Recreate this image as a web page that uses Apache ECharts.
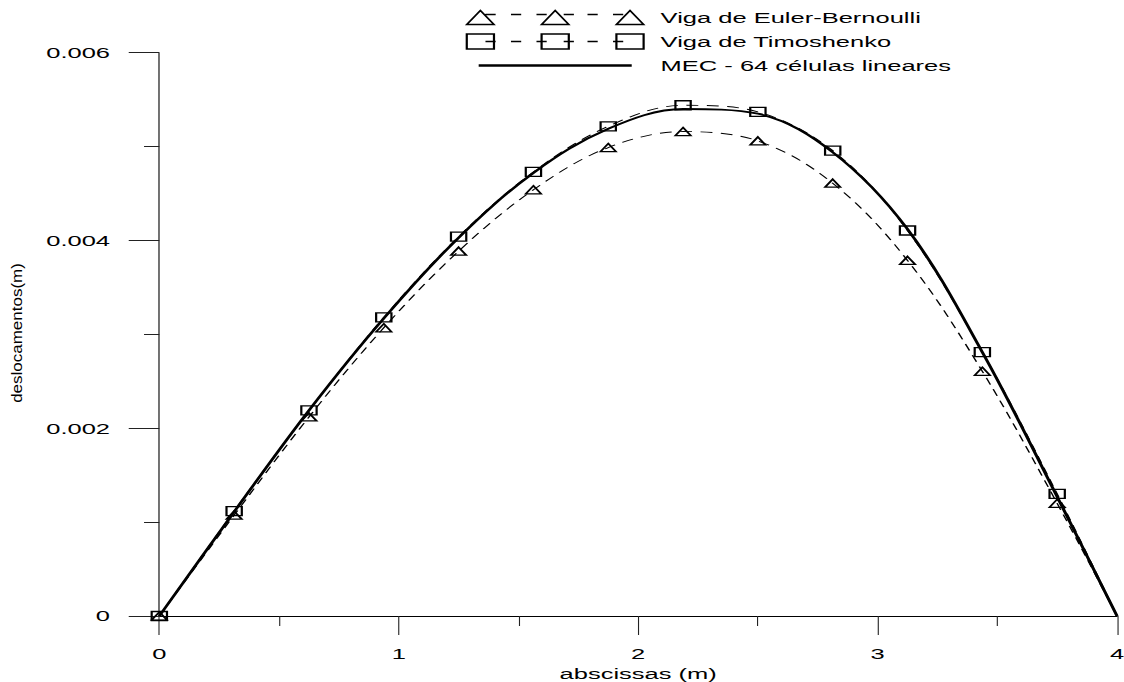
<!DOCTYPE html>
<html>
<head>
<meta charset="utf-8">
<title>Deslocamentos</title>
<script src="https://cdn.jsdelivr.net/npm/echarts@6/dist/echarts.min.js"></script>
<style>
  html, body { margin: 0; padding: 0; background: #fff; overflow: hidden; }
  /* the figure is laid out narrow and widened horizontally, like the original plot output */
  #chart { width: 661px; height: 682px; transform: scaleX(1.70045); transform-origin: 0 0; }
</style>
</head>
<body>
<div id="chart"></div>
<script>
// abscissas of the sampled points along the beam (m)
const abscissas = [0, 0.3125, 0.625, 0.9375, 1.25, 1.5625, 1.875, 2.1875, 2.5, 2.8125, 3.125, 3.4375, 3.75, 4];

// displacements (m)
const eulerBernoulli = [0, 0.001074, 0.00212, 0.00307, 0.003886, 0.00454, 0.00499, 0.00516, 0.00506, 0.00461, 0.003787, 0.002606, 0.00120, 0];
const timoshenko     = [0, 0.001117, 0.00219, 0.00318, 0.00404, 0.00473, 0.005216, 0.00544, 0.00537, 0.004957, 0.004106, 0.00281, 0.00130, 0];
const mec64          = [0, 0.00111, 0.00219, 0.00317, 0.00403, 0.00472, 0.00519, 0.00540, 0.00535, 0.00494, 0.00412, 0.00281, 0.00127, 0];

const seriesNames = ['Viga de Euler-Bernoulli', 'Viga de Timoshenko', 'MEC - 64 células lineares'];
const xTickLabels = ['0', '1', '2', '3', '4'];
const yTickLabels = ['0', '0.002', '0.004', '0.006'];

const FONT = 'Liberation Sans, Arial, sans-serif';

function toPoints(ys, markLast) {
  return abscissas.map(function (x, i) {
    if (!markLast && i === abscissas.length - 1) {
      return { value: [x, ys[i]], symbol: 'none' };
    }
    return [x, ys[i]];
  });
}

// legend icons: three markers joined by dashes, or a plain thick line
const DASHES = [[11, 17], [26, 32], [41, 47], [57, 63], [71, 77], [86, 92]];
const CENTERS = [8, 52, 96];
function dashPath(y) {
  return DASHES.map(function (d) { return 'M' + d[0] + ' ' + y + ' L' + d[1] + ' ' + y; }).join(' ');
}
const FRAME = 'M0 0 M109 16 ';
const iconEuler = 'path://' + FRAME + CENTERS.map(function (c) {
  return 'M' + (c - 8) + ' 15 L' + c + ' 1 L' + (c + 8) + ' 15 Z';
}).join(' ') + ' ' + dashPath(5);
const iconTimo = 'path://' + FRAME + CENTERS.map(function (c) {
  return 'M' + (c - 8) + ' 0.5 L' + (c + 8) + ' 0.5 L' + (c + 8) + ' 15.5 L' + (c - 8) + ' 15.5 Z';
}).join(' ') + ' ' + dashPath(8);
const iconMec = 'path://' + FRAME + 'M7 8 L97 8';

const chart = echarts.init(document.getElementById('chart'), null, { renderer: 'svg' });

chart.setOption({
  animation: false,
  backgroundColor: '#fff',
  grid: { left: 93.7, right: 4.1, top: 52.7, bottom: 66, outerBoundsMode: 'none' },
  legend: {
    orient: 'vertical',
    left: 272,
    top: 7,
    padding: 0,
    itemWidth: 109,
    itemHeight: 16,
    itemGap: 3,
    selectedMode: false,
    symbolKeepAspect: false,
    textStyle: { fontFamily: FONT, fontSize: 15, color: '#000' },
    data: [
      { name: seriesNames[0], icon: iconEuler, itemStyle: { color: 'none', borderColor: '#000', borderWidth: 1.3 } },
      { name: seriesNames[1], icon: iconTimo, itemStyle: { color: 'none', borderColor: '#000', borderWidth: 1.3 } },
      { name: seriesNames[2], icon: iconMec, itemStyle: { color: 'none', borderColor: '#000', borderWidth: 2.6 } }
    ]
  },
  graphic: [{
    type: 'text',
    x: 9.7,
    y: 333,
    rotation: Math.PI / 2,
    scaleY: 0.5,
    style: {
      text: 'deslocamentos(m)',
      fontFamily: FONT,
      fontSize: 17,
      fill: '#000',
      align: 'center',
      verticalAlign: 'middle'
    }
  }],
  xAxis: {
    type: 'value',
    min: 0,
    max: 4,
    interval: 1,
    name: 'abscissas (m)',
    nameLocation: 'middle',
    nameGap: 47,
    nameTextStyle: { fontFamily: FONT, fontSize: 15, color: '#000' },
    axisLine: { show: true, lineStyle: { color: '#000', width: 1 } },
    axisTick: { show: true, length: 19, lineStyle: { color: '#222', width: 0.65 } },
    minorTick: { show: true, splitNumber: 2, length: 10, lineStyle: { color: '#222', width: 0.65 } },
    splitLine: { show: false },
    axisLabel: {
      margin: 30,
      fontFamily: FONT,
      fontSize: 15,
      color: '#000',
      formatter: function (v, i) { return xTickLabels[i]; }
    }
  },
  yAxis: {
    type: 'value',
    min: 0,
    max: 0.006,
    interval: 0.002,
    axisLine: { show: true, lineStyle: { color: '#000', width: 0.65 } },
    axisTick: { show: true, length: 18, lineStyle: { color: '#222', width: 1 } },
    minorTick: { show: true, splitNumber: 2, length: 9, lineStyle: { color: '#222', width: 1 } },
    splitLine: { show: false },
    axisLabel: {
      margin: 29,
      fontFamily: FONT,
      fontSize: 15,
      color: '#000',
      formatter: function (v, i) { return yTickLabels[i]; }
    }
  },
  series: [
    {
      name: seriesNames[0],
      type: 'line',
      data: toPoints(eulerBernoulli, false),
      smooth: 0.35,
      symbol: 'triangle',
      symbolSize: [9, 8],
      itemStyle: { color: 'transparent', borderColor: '#000', borderWidth: 1.3 },
      lineStyle: { color: '#000', width: 0.9, type: [7, 5] },
      z: 2
    },
    {
      name: seriesNames[1],
      type: 'line',
      data: toPoints(timoshenko, false),
      smooth: 0.35,
      symbol: 'rect',
      symbolSize: [9, 9],
      itemStyle: { color: 'transparent', borderColor: '#000', borderWidth: 1.3 },
      lineStyle: { color: '#000', width: 0.9, type: [7, 5] },
      z: 3
    },
    {
      name: seriesNames[2],
      type: 'line',
      data: toPoints(mec64, true),
      smooth: 0.35,
      symbol: 'none',
      itemStyle: { color: '#000' },
      lineStyle: { color: '#000', width: 1.9 },
      z: 4
    }
  ]
});
</script>
</body>
</html>
